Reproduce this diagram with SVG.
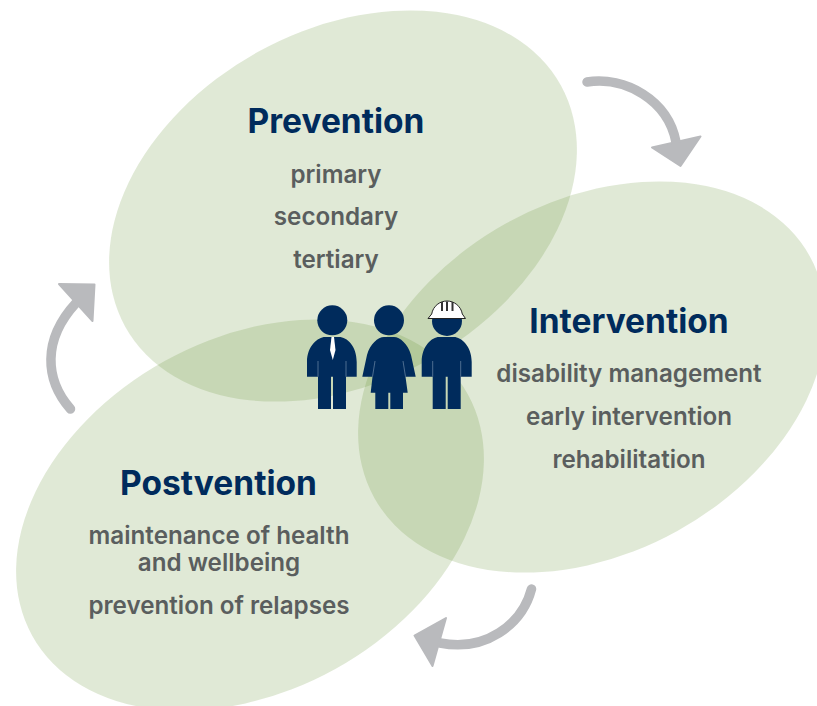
<svg xmlns="http://www.w3.org/2000/svg" width="817" height="706" viewBox="0 0 817 706">
<style>
.e{fill:#649033;fill-opacity:.2}
.t{font-family:"Inter","Open Sans",sans-serif;font-weight:700;font-size:33.500px;fill:#002b5c;text-anchor:middle}
.s{font-family:"Inter","Open Sans",sans-serif;font-weight:600;font-size:24.200px;fill:#5a5e5e;text-anchor:middle}
.a{fill:none;stroke:#b9babd;stroke-width:9.5;stroke-linecap:round}
.h{fill:#b9babd;stroke:#b9babd;stroke-width:2;stroke-linejoin:round}
.p{fill:#002b5c}
.l{fill:none;stroke:#6f8aa6;stroke-width:.7}
</style>
<g id="ellipses">
<ellipse id="prevention-area" class="e" cx="343" cy="206" rx="249" ry="176" transform="rotate(-29 343 206)"/>
<ellipse id="intervention-area" class="e" cx="592" cy="377" rx="249" ry="176" transform="rotate(-29 592 377)"/>
<ellipse id="postvention-area" class="e" cx="250" cy="515" rx="249" ry="176" transform="rotate(-29 250 515)"/>
</g>
<g id="connectors">
<path class="a" d="M587 82C625 76 668 100 676 142"/>
<polygon class="h" points="652,147.5 700.5,136.5 680.5,166"/>
<path class="a" d="M531.5 589C522 625 485 652 440 643"/>
<polygon class="h" points="446,618 414.5,635.5 432.5,666"/>
<path class="a" d="M70.500 409C45 380 42 340 76 303"/>
<polygon class="h" points="59,284 94.500,284.500 92.500,321"/>
</g>
<g id="prevention">
<text class="t" x="336" y="132.500">Prevention</text>
<text class="s" x="336" y="183">primary</text>
<text class="s" x="336" y="225">secondary</text>
<text class="s" x="336" y="268">tertiary</text>
</g>
<g id="intervention">
<text class="t" x="629" y="332.500">Intervention</text>
<text class="s" x="629" y="382">disability management</text>
<text class="s" x="629" y="425">early intervention</text>
<text class="s" x="629" y="468">rehabilitation</text>
</g>
<g id="postvention">
<text class="t" x="218.500" y="494.500">Postvention</text>
<text class="s" x="219" y="544">maintenance of health</text>
<text class="s" x="219" y="571">and wellbeing</text>
<text class="s" x="219" y="614">prevention of relapses</text>
</g>
<g id="people">
<g id="man">
<circle class="p" cx="332.300" cy="320.300" r="15"/>
<path class="p" d="M307 376.700V362C307 346 318 337 325 337H339C347 337 356.700 346 356.700 362V376.700H346V409H333V376.700H331V409H318V376.700Z"/>
<path class="l" d="M318 361V376.700M346 361V376.700"/>
<path d="M331.500 337H334L335.500 350L332.800 360L330 350Z" fill="#fff"/>
</g>
<g id="woman">
<circle class="p" cx="389" cy="320.300" r="15"/>
<path class="p" d="M362.300 376.700L367 355C370 344 378 337 384 337H394C400 337 408 344 411 355L415.700 376.700H405.500L407.700 392.700H403V409H390.300V392.700H388.300V409H375.300V392.700H370.700L372.500 376.700Z"/>
<path class="l" d="M375 361L372.500 376.700M403 361L405.500 376.700"/>
</g>
<g id="worker">
<circle class="p" cx="447" cy="321" r="15"/>
<path class="p" d="M421.700 376.700V362C421.700 346 432 337 439 337H454C461 337 471.700 346 471.700 362V376.700H460.700V409H447.700V376.700H445.700V409H432.700V376.700Z"/>
<path class="l" d="M432.700 361V376.700M460.700 361V376.700"/>
<path d="M428 318.500L431.700 314C433 306 440 301 447 301C454 301 461 306 462.300 314L465.500 318.500Z" fill="#fff" stroke="#222" stroke-width="1"/>
<path d="M442 302V311M447 301.500V311M452.500 302V311" stroke="#333" stroke-width="2" fill="none"/>
</g>
</g>
</svg>
